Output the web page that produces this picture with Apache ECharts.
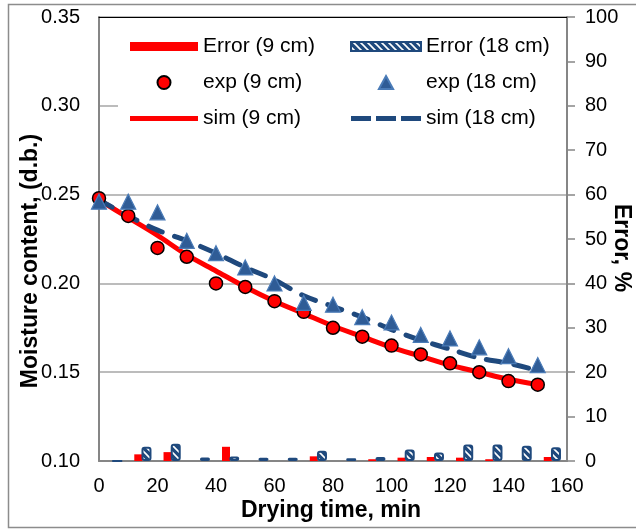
<!DOCTYPE html>
<html>
<head>
<meta charset="utf-8">
<script src="https://cdn.jsdelivr.net/npm/echarts@6/dist/echarts.min.js"></script>
<style>
html,body{margin:0;padding:0;background:#fff;}
#chart{width:636px;height:529px;}
</style>
</head>
<body>
<div id="chart"></div>
<script>
// ---- data ----
const time = [0, 10, 20, 30, 40, 50, 60, 70, 80, 90, 100, 110, 120, 130, 140, 150];
const exp9 = [0.248, 0.238, 0.220, 0.215, 0.200, 0.198, 0.190, 0.184, 0.175, 0.170, 0.165, 0.160, 0.155, 0.150, 0.145, 0.143];
const exp18 = [0.246, 0.246, 0.240, 0.224, 0.217, 0.209, 0.200, 0.189, 0.188, 0.181, 0.178, 0.171, 0.169, 0.164, 0.159, 0.154];
const sim9 = [0.247, 0.237, 0.227, 0.216, 0.207, 0.198, 0.190, 0.183, 0.176, 0.170, 0.164, 0.159, 0.154, 0.150, 0.146, 0.143];
const sim18 = [0.247, 0.238, 0.230, 0.224, 0.217, 0.209, 0.202, 0.193, 0.187, 0.181, 0.174, 0.168, 0.163, 0.158, 0.155, 0.151];
const err9 = [0, 1.5, 2.0, 0, 3.2, 0, 0, 1.05, 0, 0.4, 0.75, 0.9, 0.75, 0.4, 0, 0.9];
const err18 = [0, 3.2, 3.9, 0.8, 1.0, 0.75, 0.75, 2.3, 0.6, 0.9, 2.6, 1.9, 3.7, 3.7, 3.45, 3.1];
const xTicks = [0, 160, 20];      // min, max, step
const yLeftTicks = [0.10, 0.35, 0.05];
const yRightTicks = [0, 100, 10];
const names = ['Error (9 cm)', 'Error (18 cm)', 'exp (9 cm)', 'exp (18 cm)', 'sim (9 cm)', 'sim (18 cm)'];

// ---- hatch pattern ----
const pc = document.createElement('canvas');
pc.width = 7; pc.height = 7;
const g = pc.getContext('2d');
g.fillStyle = '#1F497D'; g.fillRect(0, 0, 7, 7);
g.strokeStyle = '#ffffff'; g.lineWidth = 1.6;
g.beginPath();
g.moveTo(0, 0); g.lineTo(7, 7);
g.moveTo(-3.5, 3.5); g.lineTo(3.5, 10.5);
g.moveTo(3.5, -3.5); g.lineTo(10.5, 3.5);
g.stroke();
const hatch = { image: pc, repeat: 'repeat' };

const FONT = "'Liberation Sans', Arial, sans-serif";
const pair = (xs, ys) => xs.map((x, i) => [x, ys[i]]);

const chart = echarts.init(document.getElementById('chart'), null, { renderer: 'canvas' });
chart.setOption({
  animation: false,
  backgroundColor: '#ffffff',
  textStyle: { fontFamily: FONT },
  grid: { left: 99, right: 69, top: 17, bottom: 68, containLabel: false },
  xAxis: [
    {
      type: 'value', min: xTicks[0], max: xTicks[1], interval: xTicks[2], position: 'bottom',
      axisLine: { show: true, lineStyle: { color: '#868686', width: 2 } },
      axisTick: { show: false },
      splitLine: { show: false },
      axisLabel: { color: '#000', fontSize: 20, margin: 15, fontFamily: FONT }
    },
    {
      type: 'category', data: time.map(String), position: 'top', boundaryGap: true,
      axisLine: { show: true, onZero: false, lineStyle: { color: '#000', width: 1 } },
      axisTick: { show: false }, axisLabel: { show: false }, splitLine: { show: false }
    }
  ],
  yAxis: [
    {
      type: 'value', min: yLeftTicks[0], max: yLeftTicks[1], interval: yLeftTicks[2], position: 'left',
      axisLine: { show: true, onZero: false, lineStyle: { color: '#868686', width: 2 } },
      axisTick: { show: false },
      splitLine: { show: true, lineStyle: { color: '#A6A6A6', width: 1.5 } },
      axisLabel: { color: '#000', fontSize: 20, margin: 19, fontFamily: FONT, formatter: v => v.toFixed(2) }
    },
    {
      type: 'value', min: yRightTicks[0], max: yRightTicks[1], interval: yRightTicks[2], position: 'right',
      axisLine: { show: true, onZero: false, lineStyle: { color: '#868686', width: 2 } },
      axisTick: { show: true, inside: false, length: 8, lineStyle: { color: '#868686', width: 1.5 } },
      splitLine: { show: false },
      axisLabel: { color: '#000', fontSize: 20, margin: 18, fontFamily: FONT }
    }
  ],
  legend: [
    {
      orient: 'vertical', left: 130, top: 36, padding: 0, itemGap: 15,
      itemWidth: 68, itemHeight: 13, selectedMode: false, z: 5,
      textStyle: { fontSize: 21, color: '#000', fontFamily: FONT },
      data: [
        { name: names[0], icon: 'path://M0,0H68V9H0Z' },
        { name: names[2], icon: 'circle' },
        { name: names[4], icon: 'path://M0,0H68V5H0Z', itemStyle: { color: '#FF0000' } }
      ]
    },
    {
      orient: 'vertical', left: 350, top: 36, padding: 0, itemGap: 15,
      itemWidth: 70, itemHeight: 13, selectedMode: false, z: 5,
      textStyle: { fontSize: 21, color: '#000', fontFamily: FONT },
      data: [
        { name: names[1], icon: 'path://M0,0H70V9H0Z' },
        { name: names[3], icon: 'path://M6,0L12,11H0Z' },
        { name: names[5], icon: 'path://M0,0H20V5H0Z M25,0H45V5H25Z M50,0H70V5H50Z', itemStyle: { color: '#1F497D' } }
      ]
    }
  ],
  graphic: [
    { type: 'rect', z: 3, silent: true, shape: { x: 118, y: 27, width: 448, height: 111 }, style: { fill: '#ffffff' } },
    { type: 'rect', z: -10, silent: true, shape: { x: 8.5, y: 4.5, width: 660, height: 523 }, style: { fill: 'none', stroke: '#8C8C8C', lineWidth: 1.5 } },
    { type: 'text', z: 10, x: 31, y: 261, rotation: Math.PI / 2,
      style: { text: 'Moisture content, (d.b.)', font: "bold 23px " + FONT, fill: '#000', align: 'center', verticalAlign: 'middle' } },
    { type: 'text', z: 10, x: 621, y: 248, rotation: -Math.PI / 2,
      style: { text: 'Error, %', font: "bold 23px " + FONT, fill: '#000', align: 'center', verticalAlign: 'middle' } },
    { type: 'text', z: 10, x: 331, y: 511,
      style: { text: 'Drying time, min', font: "bold 23px " + FONT, fill: '#000', align: 'center', verticalAlign: 'middle' } }
  ],
  series: [
    {
      name: names[0], type: 'bar', xAxisIndex: 1, yAxisIndex: 1, data: err9,
      barWidth: 8, barGap: '-10%', z: 2,
      itemStyle: { color: '#FF0000' }
    },
    {
      name: names[1], type: 'bar', xAxisIndex: 1, yAxisIndex: 1, data: err18,
      barWidth: 10, z: 2,
      itemStyle: { color: hatch, borderColor: '#1F497D', borderWidth: 2, borderRadius: 2 }
    },
    {
      name: names[2], type: 'scatter', xAxisIndex: 0, yAxisIndex: 0, data: pair(time, exp9),
      symbol: 'circle', symbolSize: 13, z: 4,
      itemStyle: { color: '#FF0000', borderColor: '#000', borderWidth: 1.5, opacity: 1 }
    },
    {
      name: names[3], type: 'scatter', xAxisIndex: 0, yAxisIndex: 0, data: pair(time, exp18),
      symbol: 'triangle', symbolSize: 15, z: 5,
      itemStyle: { color: '#2F5C96', borderColor: '#4A7BB7', borderWidth: 1.2, opacity: 1 }
    },
    {
      name: names[4], type: 'line', xAxisIndex: 0, yAxisIndex: 0, data: pair(time, sim9),
      symbol: 'none', smooth: 0.3, z: 3,
      lineStyle: { color: '#FF0000', width: 5, cap: 'round', join: 'round' },
      itemStyle: { color: '#FF0000' }
    },
    {
      name: names[5], type: 'line', xAxisIndex: 0, yAxisIndex: 0, data: pair(time, sim18),
      symbol: 'none', smooth: 0.3, z: 3,
      lineStyle: { color: '#1F497D', width: 5, type: [15, 13], cap: 'round', join: 'round' },
      itemStyle: { color: '#1F497D' }
    }
  ]
});
</script>
</body>
</html>
